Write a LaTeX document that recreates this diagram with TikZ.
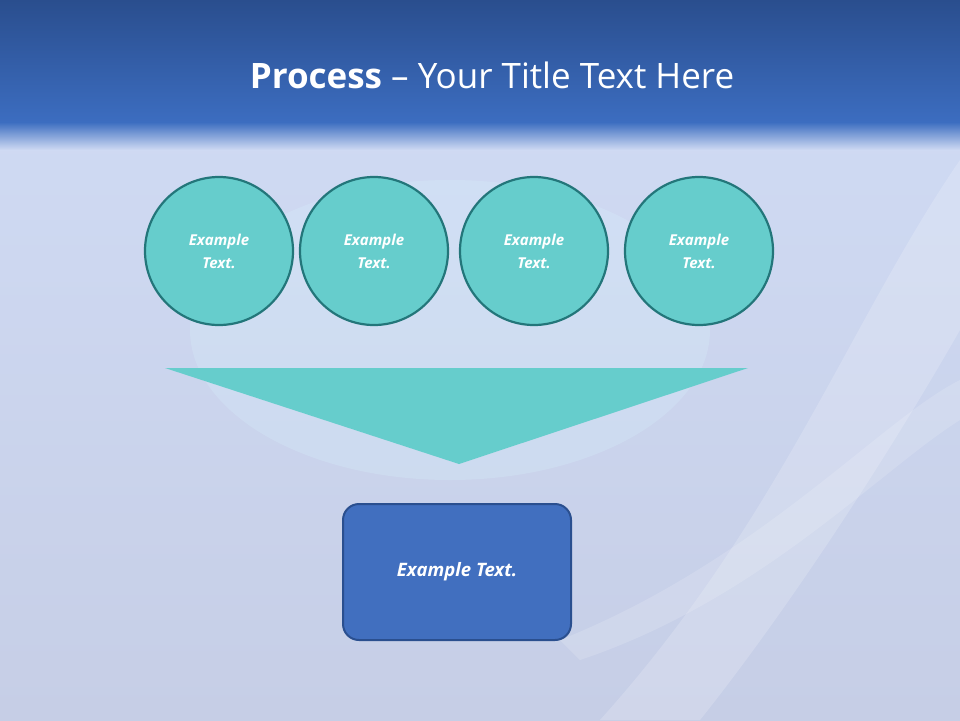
\documentclass[tikz,border=0pt]{standalone}
\usepackage{fontspec}
\setmainfont{Open Sans}
\begin{document}
\begin{tikzpicture}[x=1pt,y=-1pt,
  circ/.style={circle,draw=circline,line width=2.2pt,fill=tealfill,minimum size=148pt,inner sep=0pt,align=center,text=white,font=\bfseries\itshape\fontsize{15}{23}\selectfont},
  boxn/.style={rectangle,rounded corners=16pt,draw=boxline,line width=2pt,fill=boxfill,minimum width=228pt,minimum height=136pt,text=white,font=\bfseries\itshape\fontsize{18.5}{22}\selectfont}]
\definecolor{tealfill}{HTML}{66CDCC}
\definecolor{circline}{HTML}{23767A}
\definecolor{boxfill}{HTML}{416FBF}
\definecolor{boxline}{HTML}{2A4F8F}
\definecolor{topA}{HTML}{2A4E8E}
\definecolor{topB}{HTML}{3C6DC0}
\definecolor{bgA}{HTML}{CFDAF3}
\definecolor{bgB}{HTML}{C6CEE6}
\useasboundingbox (0,0) rectangle (960,720);
\shade[top color=bgA,bottom color=bgB] (0,120) rectangle (960,720);
\fill[white,opacity=0.18] (600,720) .. controls (780,520) and (850,320) .. (960,160) -- (960,330) .. controls (880,470) and (780,620) .. (700,720) -- cycle;
\fill[white,opacity=0.15] (560,640) .. controls (760,560) and (880,420) .. (960,380) -- (960,420) .. controls (880,470) and (760,600) .. (580,660) -- cycle;
\fill[cyan!15,opacity=0.25] (450,330) ellipse (260 and 150);
\shade[top color=topA,bottom color=topB] (0,0) rectangle (960,122);
\shade[top color=topB,bottom color=bgA] (0,122) rectangle (960,150);
\node[text=white,font=\fontsize{35}{40}\selectfont] (title) at (492,75) {\textbf{Process} -- Your Title Text Here};
\node[circ] (c1) at (219,251) {Example\\Text.};
\node[circ] (c2) at (374,251) {Example\\Text.};
\node[circ] (c3) at (534,251) {Example\\Text.};
\node[circ] (c4) at (699,251) {Example\\Text.};
\coordinate (tl) at (165,368);
\coordinate (tr) at (748,368);
\coordinate (tb) at (459,464);
\fill[tealfill] (tl) -- (tr) -- (tb) -- cycle;
\node[boxn] (b) at (457,572) {Example Text.};
\end{tikzpicture}
\end{document}
